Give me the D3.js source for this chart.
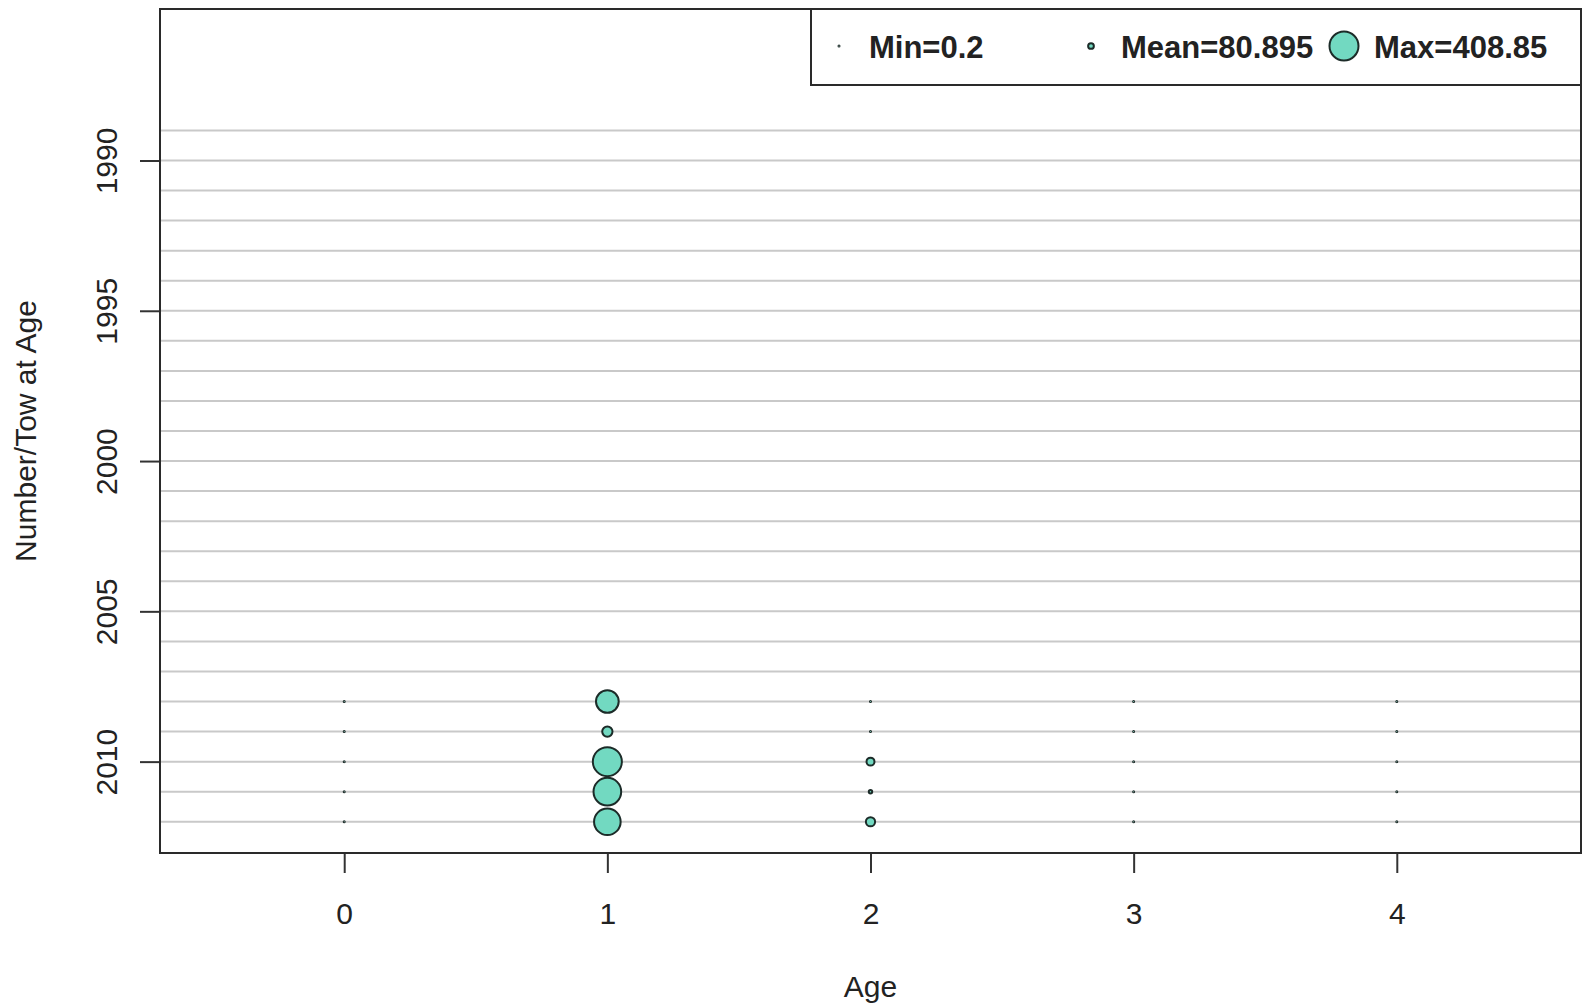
<!DOCTYPE html>
<html>
<head>
<meta charset="utf-8">
<script src="https://cdn.jsdelivr.net/npm/d3@7"></script>
<style>
  body { margin: 0; background: #fff; }
  svg text { font-family: "Liberation Sans", Arial, sans-serif; fill: #222; }
</style>
</head>
<body>
<div id="chart"></div>
<script>
// survey years with points, ages on x
var years = [2008, 2009, 2010, 2011, 2012];
var ages = [0, 1, 2, 3, 4];
var age0 = [0.2, 0.5, 0.3, 0.6, 0.4];
var age1 = [320, 145, 408.85, 390, 375];
var age2 = [0.6, 0.4, 112, 48, 130];
var age3 = [0.3, 0.2, 0.4, 0.3, 0.5];
var age4 = [0.2, 0.3, 0.2, 0.4, 0.3];
var gridYears = d3.range(1989, 2013);
var yTicks = [1990, 1995, 2000, 2005, 2010];
var legendLabels = ["Min=0.2", "Mean=80.895", "Max=408.85"];
var legendValues = [0.2, 80.895, 408.85];

var svgWidth = 1583;
var svgHeight = 1008;
var margin = { top: 9, right: 2, bottom: 155, left: 160 };
var width = svgWidth - margin.left - margin.right;
var height = svgHeight - margin.top - margin.bottom;

var svg = d3.select("#chart")
  .append("svg")
  .attr("width", svgWidth)
  .attr("height", svgHeight);

var chartGroup = svg.append("g")
  .attr("transform", `translate(${margin.left}, ${margin.top})`);

// build points table from the series
var series = [age0, age1, age2, age3, age4];
var points = [];
ages.forEach(function(a, i) {
  years.forEach(function(y, j) {
    points.push({ age: a, year: y, value: series[i][j] });
  });
});

var xScale = d3.scaleLinear().domain([-0.7, 4.7]).range([0, width]);
var yScale = d3.scaleLinear().domain([1984.96, 2013.04]).range([0, height]);
var rScale = d3.scaleLinear().domain([0, 408.85]).range([0, 14.5]);

// grid lines
chartGroup.selectAll(".grid")
  .data(gridYears)
  .enter()
  .append("line")
  .attr("x1", 0)
  .attr("x2", width)
  .attr("y1", d => yScale(d))
  .attr("y2", d => yScale(d))
  .attr("stroke", "#c9c9c9")
  .attr("stroke-width", 2);

// axes
var bottomAxis = d3.axisBottom(xScale).tickValues(ages).tickSize(20).tickPadding(30).tickFormat(d3.format("d"));
var leftAxis = d3.axisLeft(yScale).tickValues(yTicks).tickSize(20).tickFormat(d3.format("d"));

var xAxisG = chartGroup.append("g")
  .attr("transform", `translate(0, ${height})`)
  .call(bottomAxis);
xAxisG.select(".domain").remove();
xAxisG.selectAll("line").attr("stroke", "#333").attr("stroke-width", 2);
xAxisG.selectAll("text")
  .attr("font-size", "30px")
  .attr("font-family", "Liberation Sans, Arial, sans-serif")
  .attr("fill", "#222");

var yAxisG = chartGroup.append("g").call(leftAxis);
yAxisG.select(".domain").remove();
yAxisG.selectAll("line").attr("stroke", "#333").attr("stroke-width", 2);
yAxisG.selectAll("text")
  .attr("x", null)
  .attr("dy", null)
  .attr("transform", "translate(-43, 0) rotate(-90)")
  .attr("y", 0)
  .attr("text-anchor", "middle")
  .attr("font-size", "30px")
  .attr("font-family", "Liberation Sans, Arial, sans-serif")
  .attr("fill", "#222");

// bubbles
chartGroup.selectAll(".bubble")
  .data(points)
  .enter()
  .append("circle")
  .attr("cx", d => xScale(d.age))
  .attr("cy", d => yScale(d.year))
  .attr("r", d => Math.max(rScale(d.value), 0.5))
  .attr("fill", "#72d9c1")
  .attr("stroke", "#1c2b28")
  .attr("stroke-width", 2);

// plot box
chartGroup.append("rect")
  .attr("x", 0)
  .attr("y", 0)
  .attr("width", width)
  .attr("height", height)
  .attr("fill", "none")
  .attr("stroke", "#2a2a2a")
  .attr("stroke-width", 2);

// legend
var legendG = chartGroup.append("g");
legendG.append("rect")
  .attr("x", 651)
  .attr("y", 0)
  .attr("width", width - 651)
  .attr("height", 76)
  .attr("fill", "#fff")
  .attr("stroke", "#2a2a2a")
  .attr("stroke-width", 2);

var legendDotX = [679, 931, 1184];
var legendItems = legendG.selectAll(".leg")
  .data(legendValues)
  .enter()
  .append("g")
  .attr("transform", (d, i) => `translate(${legendDotX[i]}, 37)`);

legendItems.append("circle")
  .attr("r", d => Math.max(rScale(d), 0.5))
  .attr("fill", "#72d9c1")
  .attr("stroke", "#1c2b28")
  .attr("stroke-width", 2);

legendItems.append("text")
  .attr("x", 30)
  .attr("y", 12)
  .attr("font-size", "31px")
  .attr("font-weight", "bold")
  .attr("fill", "#111")
  .text((d, i) => legendLabels[i]);

// axis titles
svg.append("text")
  .attr("transform", `translate(36, ${margin.top + height / 2}) rotate(-90)`)
  .attr("text-anchor", "middle")
  .attr("font-size", "30px")
  .text("Number/Tow at Age");

svg.append("text")
  .attr("x", margin.left + width / 2)
  .attr("y", 997)
  .attr("text-anchor", "middle")
  .attr("font-size", "30px")
  .text("Age");
</script>
</body>
</html>
